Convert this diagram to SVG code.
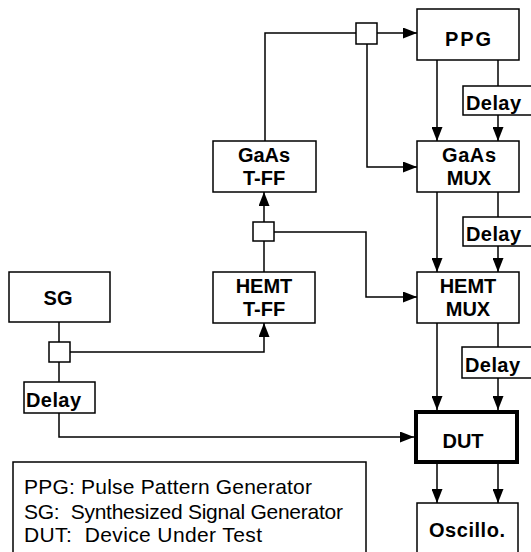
<svg xmlns="http://www.w3.org/2000/svg" width="531" height="552" viewBox="0 0 531 552">
<style>
.box{fill:#fff;stroke:#000;stroke-width:1.5}
.thick{fill:#fff;stroke:#000;stroke-width:4}
.lbl{font-family:"Liberation Sans",Arial,sans-serif;font-weight:bold;font-size:20px;fill:#000;text-anchor:middle}
.dl{font-family:"Liberation Sans",Arial,sans-serif;font-weight:bold;font-size:20px;fill:#000}
.leg{font-family:"Liberation Sans",Arial,sans-serif;font-size:21px;fill:#000;white-space:pre}
.ln{fill:none;stroke:#000;stroke-width:1.5}
</style>
<defs>
<marker id="ah" markerUnits="userSpaceOnUse" markerWidth="15" markerHeight="11" refX="14" refY="5.5" orient="auto">
<path d="M0,0 L14,5.5 L0,11 z" fill="#000"/>
</marker>
</defs>
<rect width="531" height="552" fill="#fff"/>

<g id="connectors">
<path class="ln" d="M377,33 H417" marker-end="url(#ah)"/>
<path class="ln" d="M265,141 V33 H356"/>
<path class="ln" d="M367,44 V167 H417" marker-end="url(#ah)"/>
<path class="ln" d="M437,60 V141" marker-end="url(#ah)"/>
<path class="ln" d="M498,60 V86"/>
<path class="ln" d="M498,115 V141" marker-end="url(#ah)"/>
<path class="ln" d="M437,192 V272" marker-end="url(#ah)"/>
<path class="ln" d="M498,192 V217"/>
<path class="ln" d="M498,246 V272" marker-end="url(#ah)"/>
<path class="ln" d="M437,323 V410" marker-end="url(#ah)"/>
<path class="ln" d="M498,323 V347"/>
<path class="ln" d="M498,378 V410" marker-end="url(#ah)"/>
<path class="ln" d="M437,464 V503" marker-end="url(#ah)"/>
<path class="ln" d="M498,464 V503" marker-end="url(#ah)"/>
<path class="ln" d="M264,222 V192" marker-end="url(#ah)"/>
<path class="ln" d="M264,272 V241"/>
<path class="ln" d="M274,232 H366 V297 H417" marker-end="url(#ah)"/>
<path class="ln" d="M59,322 V342"/>
<path class="ln" d="M70,352 H264 V323" marker-end="url(#ah)"/>
<path class="ln" d="M59,362 V382"/>
<path class="ln" d="M59,413 V437 H414" marker-end="url(#ah)"/>
</g>

<g id="splitter-top"><rect class="box" x="356" y="23" width="21" height="21"/></g>
<g id="splitter-mid"><rect class="box" x="253" y="222" width="21" height="19"/></g>
<g id="splitter-sg"><rect class="box" x="49" y="342" width="21" height="20"/></g>

<g id="ppg"><rect class="box" x="417" y="9" width="102" height="51"/><text class="lbl" x="468" y="46" textLength="46">PPG</text></g>
<g id="delay1"><rect class="box" x="463" y="86" width="80" height="29"/><text class="dl" x="466" y="110" textLength="55">Delay</text></g>
<g id="gaas-mux"><rect class="box" x="417" y="141" width="102" height="51"/><text class="lbl" x="469" y="162" textLength="54">GaAs</text><text class="lbl" x="469" y="185">MUX</text></g>
<g id="delay2"><rect class="box" x="463" y="217" width="80" height="29"/><text class="dl" x="466" y="241" textLength="55">Delay</text></g>
<g id="hemt-mux"><rect class="box" x="417" y="272" width="102" height="51"/><text class="lbl" x="468" y="293">HEMT</text><text class="lbl" x="468" y="316">MUX</text></g>
<g id="delay3"><rect class="box" x="462" y="347" width="80" height="31"/><text class="dl" x="465" y="372" textLength="55">Delay</text></g>
<g id="dut"><rect class="thick" x="416" y="412" width="101" height="50"/><text class="lbl" x="463" y="448">DUT</text></g>
<g id="oscillo"><rect class="box" x="417" y="503" width="101" height="60"/><text class="lbl" x="467" y="537" textLength="76">Oscillo.</text></g>
<g id="gaas-tff"><rect class="box" x="213" y="141" width="103" height="51"/><text class="lbl" x="264" y="162" textLength="52">GaAs</text><text class="lbl" x="264" y="185">T-FF</text></g>
<g id="hemt-tff"><rect class="box" x="213" y="272" width="102" height="51"/><text class="lbl" x="264" y="293">HEMT</text><text class="lbl" x="264" y="316">T-FF</text></g>
<g id="sg"><rect class="box" x="9" y="272" width="101" height="50"/><text class="lbl" x="58" y="305">SG</text></g>
<g id="delay-sg"><rect class="box" x="24" y="382" width="71" height="31"/><text class="dl" x="26" y="407" textLength="55">Delay</text></g>

<g id="legend">
<rect class="box" x="13" y="462" width="353" height="100"/>
<text class="leg" x="24" y="494" textLength="288">PPG: Pulse Pattern Generator</text>
<text class="leg" x="24" y="519" textLength="319">SG:  Synthesized Signal Generator</text>
<text class="leg" x="24" y="542" textLength="238">DUT:  Device Under Test</text>
</g>
</svg>
